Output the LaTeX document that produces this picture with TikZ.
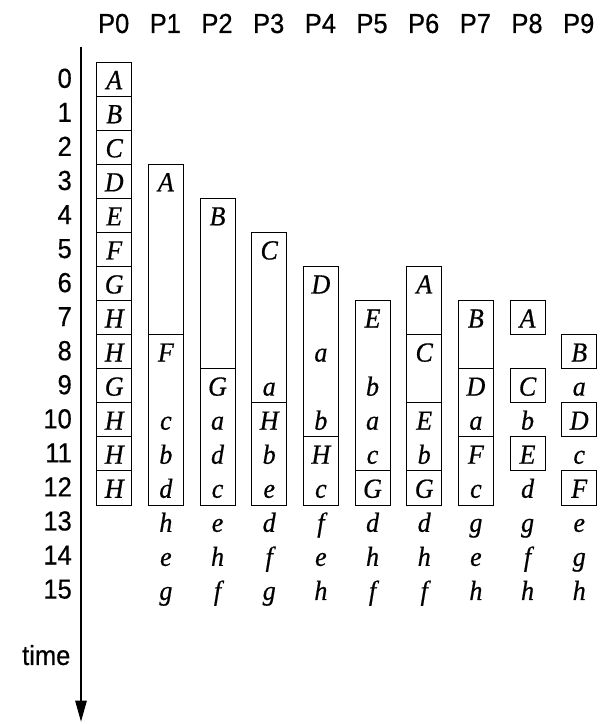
\documentclass[tikz,border=0pt]{standalone}
\usepackage{fontspec}
\setmainfont{Liberation Serif}
\newfontfamily\labfont{Liberation Sans}[FakeBold=0.5]
\newfontfamily\letfont{Liberation Serif}[FakeBold=0.6]
\usetikzlibrary{arrows.meta}
\tikzset{
  cellbox/.style={draw, line width=0.8pt},
  letter/.style={font=\letfont\fontsize{26}{26}\selectfont\itshape, anchor=base, inner sep=0pt, yscale=1.06},
  plab/.style={font=\labfont\fontsize{25.5}{25.5}\selectfont, anchor=base, inner sep=0pt, yscale=1.08},
  rlab/.style={font=\labfont\fontsize{25.5}{25.5}\selectfont, anchor=base east, inner sep=0pt, yscale=1.08},
  axis/.style={line width=1.1pt, -{Triangle[length=21pt,width=11.5pt]}},
}
\newcommand\cbox[3]{\draw[cellbox] ({#1-0.3387},{#2-0.5}) rectangle ({#1+0.3387},{#3+0.5});}
\newcommand\lt[3]{\node[letter] (l#1-#2) at (#1,{#2+0.29}) {#3};}
\begin{document}
\begin{tikzpicture}
\useasboundingbox (0pt,0pt) rectangle (610pt,-724pt);
\begin{scope}[x=51.67pt, y=-34.05pt, shift={(114.2pt,-79.3pt)}]
  % header
  \foreach \ci in {0,...,9} \node[plab] (head\ci) at (\ci-0.01,-1.36) {P\ci};
  % row labels
  \foreach \ri in {0,...,15} \node[rlab] (row\ri) at (-0.817,\ri+0.25) {\ri};
  % time axis
  \coordinate (axtop) at (-0.6425,-0.957);
  \coordinate (axbot) at (-0.6425,18.866);
  \draw[axis] (axtop) -- (axbot);
  \node[rlab] (time) at (-0.845,17.2) {time};
  % boxes
  \foreach \ri in {0,...,12} {\cbox{0}{\ri}{\ri}}
  \cbox{1}{3}{7}\cbox{1}{8}{12}
  \cbox{2}{4}{8}\cbox{2}{9}{12}
  \cbox{3}{5}{9}\cbox{3}{10}{12}
  \cbox{4}{6}{10}\cbox{4}{11}{12}
  \cbox{5}{7}{11}\cbox{5}{12}{12}
  \cbox{6}{6}{7}\cbox{6}{8}{9}\cbox{6}{10}{11}\cbox{6}{12}{12}
  \cbox{7}{7}{8}\cbox{7}{9}{10}\cbox{7}{11}{12}
  \cbox{8}{7}{7}\cbox{8}{9}{9}\cbox{8}{11}{11}
  \cbox{9}{8}{8}\cbox{9}{10}{10}\cbox{9}{12}{12}
  % letters
  \lt{0}{0}{A}\lt{0}{1}{B}\lt{0}{2}{C}\lt{0}{3}{D}\lt{0}{4}{E}\lt{0}{5}{F}\lt{0}{6}{G}
  \lt{0}{7}{H}\lt{0}{8}{H}\lt{0}{9}{G}\lt{0}{10}{H}\lt{0}{11}{H}\lt{0}{12}{H}
  \lt{1}{3}{A}\lt{1}{8}{F}\lt{1}{10}{c}\lt{1}{11}{b}\lt{1}{12}{d}\lt{1}{13}{h}\lt{1}{14}{e}\lt{1}{15}{g}
  \lt{2}{4}{B}\lt{2}{9}{G}\lt{2}{10}{a}\lt{2}{11}{d}\lt{2}{12}{c}\lt{2}{13}{e}\lt{2}{14}{h}\lt{2}{15}{f}
  \lt{3}{5}{C}\lt{3}{9}{a}\lt{3}{10}{H}\lt{3}{11}{b}\lt{3}{12}{e}\lt{3}{13}{d}\lt{3}{14}{f}\lt{3}{15}{g}
  \lt{4}{6}{D}\lt{4}{8}{a}\lt{4}{10}{b}\lt{4}{11}{H}\lt{4}{12}{c}\lt{4}{13}{f}\lt{4}{14}{e}\lt{4}{15}{h}
  \lt{5}{7}{E}\lt{5}{9}{b}\lt{5}{10}{a}\lt{5}{11}{c}\lt{5}{12}{G}\lt{5}{13}{d}\lt{5}{14}{h}\lt{5}{15}{f}
  \lt{6}{6}{A}\lt{6}{8}{C}\lt{6}{10}{E}\lt{6}{11}{b}\lt{6}{12}{G}\lt{6}{13}{d}\lt{6}{14}{h}\lt{6}{15}{f}
  \lt{7}{7}{B}\lt{7}{9}{D}\lt{7}{10}{a}\lt{7}{11}{F}\lt{7}{12}{c}\lt{7}{13}{g}\lt{7}{14}{e}\lt{7}{15}{h}
  \lt{8}{7}{A}\lt{8}{9}{C}\lt{8}{10}{b}\lt{8}{11}{E}\lt{8}{12}{d}\lt{8}{13}{g}\lt{8}{14}{f}\lt{8}{15}{h}
  \lt{9}{8}{B}\lt{9}{9}{a}\lt{9}{10}{D}\lt{9}{11}{c}\lt{9}{12}{F}\lt{9}{13}{e}\lt{9}{14}{g}\lt{9}{15}{h}
\end{scope}
\end{tikzpicture}
\end{document}
